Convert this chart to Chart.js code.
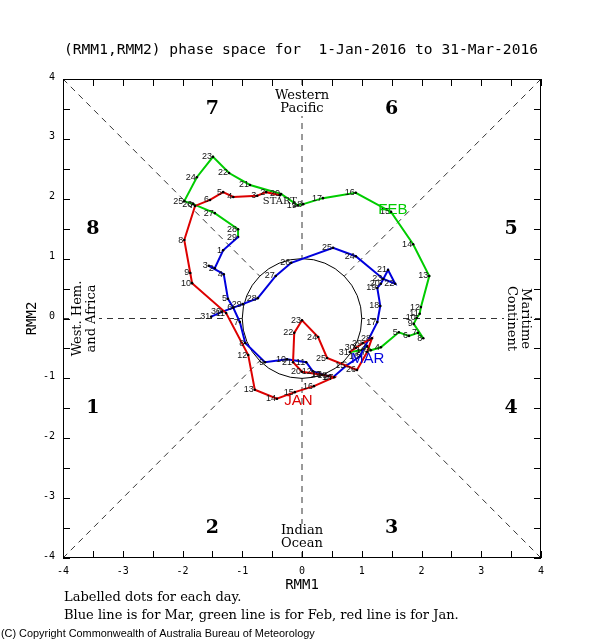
<!DOCTYPE html>
<html><head><meta charset="utf-8">
<script src="https://cdn.jsdelivr.net/npm/chart.js@4.4.0/dist/chart.umd.min.js"></script>
<style>html,body{margin:0;padding:0;background:#fff;overflow:hidden}#wrap{width:602px;height:640px;position:relative}</style>
</head><body><div id="wrap"><canvas id="c" width="602" height="640"></canvas></div>
<script>
// ---- data (RMM1 = x, RMM2 = y) ----
const janX=[-0.37,-0.60,-0.75,-1.15,-1.32,-1.54,-1.79,-1.97,-1.87,-1.84,-1.27,-0.90,-0.79,-0.42,-0.12,0.20,0.54,0.44,0.33,0.00,-0.15,-0.13,0.00,0.27,0.42,0.92,1.09,1.17,1.02,0.90,0.80];
const janY=[2.06,2.11,2.05,2.03,2.11,1.98,1.88,1.31,0.76,0.59,0.09,-0.61,-1.19,-1.34,-1.23,-1.13,-0.98,-0.96,-0.94,-0.89,-0.73,-0.24,-0.03,-0.31,-0.66,-0.86,-0.56,-0.33,-0.41,-0.49,-0.56];
const febX=[1.00,1.09,1.15,1.32,1.62,1.79,1.94,2.03,1.87,1.92,1.97,1.99,2.13,1.86,1.49,0.90,0.35,0.02,-0.07,-0.35,-0.87,-1.22,-1.49,-1.76,-1.97,-1.82,-1.46,-1.07,-1.07];
const febY=[-0.53,-0.46,-0.53,-0.48,-0.23,-0.29,-0.24,-0.33,-0.09,0.01,0.08,0.19,0.71,1.24,1.78,2.10,2.01,1.91,1.89,2.08,2.23,2.43,2.70,2.36,1.96,1.91,1.76,1.49,1.36];
const marX=[-1.32,-1.46,-1.56,-1.31,-1.24,-1.15,-1.04,-0.95,-0.62,-0.25,0.07,0.18,0.35,0.52,0.74,0.97,1.26,1.31,1.26,1.32,1.44,1.56,1.36,0.90,0.52,-0.18,-0.44,-0.74,-0.99,-1.34,-1.52];
const marY=[1.14,0.84,0.88,0.74,0.33,0.18,-0.06,-0.41,-0.73,-0.68,-0.73,-0.88,-0.94,-0.98,-0.79,-0.63,-0.06,0.21,0.51,0.58,0.81,0.58,0.66,1.04,1.18,0.93,0.71,0.34,0.24,0.11,0.03];
const janDays=["START","2","3","4","5","6","7","8","9","10","11","12","13","14","15","16","17","18","19","20","21","22","23","24","25","26","27","28","29","30","31"];
const febDays=["1","2","3","4","5","6","7","8","9","10","11","12","13","14","15","16","17","18","19","20","21","22","23","24","25","26","27","28","29"];
const marDays=["1","2","3","4","5","6","7","8","9","10","11","12","13","14","15","16","17","18","19","20","21","22","23","24","25","26","27","28","29","30","31"];
const xTicks=[-4,-3,-2,-1,0,1,2,3,4];
const yTicks=[-4,-3,-2,-1,0,1,2,3,4];
const phaseNames=["1","2","3","4","5","6","7","8"];
const monthNames=["JAN","FEB","MAR"];

const RED='#dd0000', GREEN='#00cc00', BLUE='#0000dd';
function pts(xs,ys){return xs.map((x,i)=>({x:x,y:ys[i]}));}
// connect each month to the previous month's last day
const janData=pts(janX,janY);
const febData=[{x:janX[janX.length-1],y:janY[janY.length-1]}].concat(pts(febX,febY));
const marData=[{x:febX[febX.length-1],y:febY[febY.length-1]}].concat(pts(marX,marY));

function fit(ctx,text,family,target,weight){ctx.font=(weight||'')+' 100px '+family;const w=ctx.measureText(text).width;return target/w*100;}

const frame={
  id:'frame',
  beforeDatasetsDraw(chart){
    const ctx=chart.ctx, sx=chart.scales.x, sy=chart.scales.y, a=chart.chartArea;
    const px=v=>sx.getPixelForValue(v), py=v=>sy.getPixelForValue(v);
    ctx.save();
    // dashed phase lines from border to unit circle
    ctx.strokeStyle='#000';ctx.lineWidth=0.8;ctx.setLineDash([6,5]);
    const r=Math.SQRT1_2;
    const segs=[[-4,4,-r,r],[4,4,r,r],[-4,-4,-r,-r],[4,-4,r,-r],[0,4,0,1],[0,-4,0,-1],[-4,0,-1,0],[4,0,1,0]];
    segs.forEach(s=>{ctx.beginPath();ctx.moveTo(px(s[0]),py(s[1]));ctx.lineTo(px(s[2]),py(s[3]));ctx.stroke();});
    ctx.setLineDash([]);
    // unit circle
    ctx.lineWidth=1;ctx.beginPath();
    ctx.ellipse(px(0),py(0),px(1)-px(0),py(0)-py(1),0,0,Math.PI*2);ctx.stroke();
    // box
    ctx.strokeRect(a.left+0.5,a.top+0.5,a.right-a.left-1,a.bottom-a.top-1);
    // ticks every 0.5 inward
    ctx.lineWidth=1;ctx.beginPath();
    for(let v=-4;v<=4.001;v+=0.5){
      const X=Math.round(px(v))+0.5, Y=Math.round(py(v))+0.5;
      ctx.moveTo(X,a.bottom);ctx.lineTo(X,a.bottom-7);
      ctx.moveTo(X,a.top);ctx.lineTo(X,a.top+7);
      ctx.moveTo(a.left,Y);ctx.lineTo(a.left+7,Y);
      ctx.moveTo(a.right,Y);ctx.lineTo(a.right-7,Y);
    }
    ctx.stroke();
    // tick labels
    ctx.fillStyle='#000';ctx.font='10px "DejaVu Sans Mono"';
    ctx.textAlign='center';ctx.textBaseline='middle';
    xTicks.forEach(v=>ctx.fillText(String(v),px(v),a.bottom+13));
    ctx.textAlign='right';
    yTicks.forEach(v=>ctx.fillText(String(v),a.left-8,py(v)-2));
    // axis titles
    ctx.font='14px "DejaVu Sans Mono"';ctx.textAlign='center';
    ctx.fillText('RMM1',px(0),a.bottom+27);
    ctx.save();ctx.translate(32,py(0));ctx.rotate(-Math.PI/2);ctx.fillText('RMM2',0,0);ctx.restore();
    // title
    const tt='(RMM1,RMM2) phase space for  1-Jan-2016 to 31-Mar-2016';
    ctx.font=fit(ctx,tt,'"DejaVu Sans Mono"',474).toFixed(2)+'px "DejaVu Sans Mono"';
    ctx.fillText(tt,301,50);
    // phase numbers
    ctx.font='bold 19px "DejaVu Serif"';
    const ph=[[-3.5,-1.5],[-1.5,-3.5],[1.5,-3.5],[3.5,-1.5],[3.5,1.5],[1.5,3.5],[-1.5,3.5],[-3.5,1.5]];
    phaseNames.forEach((n,i)=>ctx.fillText(n,px(ph[i][0]),py(ph[i][1])));
    // region names with white background
    ctx.font='13px "DejaVu Serif"';
    function boxed(t,x,y){const w=ctx.measureText(t).width;ctx.fillStyle='#fff';ctx.fillRect(x-w/2-2,y-7,w+4,14);ctx.fillStyle='#000';ctx.fillText(t,x,y);}
    boxed('Western',px(0),96);boxed('Pacific',px(0),109);
    boxed('Indian',px(0),531);boxed('Ocean',px(0),544);
    ctx.save();ctx.translate(78,py(0));ctx.rotate(-Math.PI/2);boxed('West. Hem.',0,0);boxed('and Africa',0,14);ctx.restore();
    ctx.save();ctx.translate(525,py(0));ctx.rotate(Math.PI/2);boxed('Maritime',0,0);boxed('Continent',0,14);ctx.restore();
    // footnotes
    ctx.textAlign='left';ctx.textBaseline='alphabetic';
    const f2='Blue line is for Mar, green line is for Feb, red line is for Jan.';
    const fs=fit(ctx,f2,'"DejaVu Serif"',395);
    ctx.font=fs.toFixed(2)+'px "DejaVu Serif"';
    ctx.fillText('Labelled dots for each day.',64,601);
    ctx.fillText(f2,64,619);
    const cp='(C) Copyright Commonwealth of Australia Bureau of Meteorology';
    ctx.font=fit(ctx,cp,'"Liberation Sans"',314).toFixed(2)+'px "Liberation Sans"';
    ctx.fillText(cp,1,637);
    ctx.restore();
  },
  afterDatasetsDraw(chart){
    const ctx=chart.ctx;
    ctx.save();
    ctx.fillStyle='#111';ctx.font='9px "Liberation Sans"';ctx.textBaseline='middle';
    const sets=[[0,janDays,0],[1,febDays,1],[2,marDays,1]];
    sets.forEach(s=>{
      const meta=chart.getDatasetMeta(s[0]);
      s[1].forEach((lab,i)=>{
        const el=meta.data[i+s[2]];
        if(lab==='START'){ctx.font='10px "DejaVu Serif"';ctx.textAlign='center';ctx.fillText(lab,el.x,el.y+6);ctx.font='9px "Liberation Sans"';}
        else{ctx.textAlign='right';ctx.fillText(lab,el.x-1,el.y);}
      });
    });
    // month labels near mid-month
    const sx=chart.scales.x, sy=chart.scales.y;
    ctx.font='15px "Liberation Sans"';ctx.textAlign='center';
    const mpos=[[-0.06,-1.37],[1.52,1.81],[1.1,-0.67]];
    const mcol=[RED,GREEN,BLUE];
    monthNames.forEach((m,i)=>{ctx.fillStyle=mcol[i];ctx.fillText(m,sx.getPixelForValue(mpos[i][0]),sy.getPixelForValue(mpos[i][1]));});
    ctx.restore();
  }
};

const common={showLine:true,borderWidth:2,pointRadius:1.3,pointHoverRadius:1.3,pointBackgroundColor:'#000',pointBorderWidth:0,tension:0,fill:false};
new Chart(document.getElementById('c').getContext('2d'),{
  type:'scatter',
  data:{datasets:[
    Object.assign({label:'Jan',data:janData,borderColor:RED,order:1},common),
    Object.assign({label:'Feb',data:febData,borderColor:GREEN,order:3},common,{pointRadius:febData.map((d,i)=>i===0?0:1.3)}),
    Object.assign({label:'Mar',data:marData,borderColor:BLUE,order:2},common,{pointRadius:marData.map((d,i)=>i===0?0:1.3)})
  ]},
  options:{
    responsive:false,animation:false,devicePixelRatio:1,
    layout:{padding:{left:63,top:79,right:61,bottom:82}},
    scales:{
      x:{type:'linear',min:-4,max:4,display:false},
      y:{type:'linear',min:-4,max:4,display:false}
    },
    plugins:{legend:{display:false},tooltip:{enabled:false}},
    events:[]
  },
  plugins:[frame]
});
</script></body></html>
